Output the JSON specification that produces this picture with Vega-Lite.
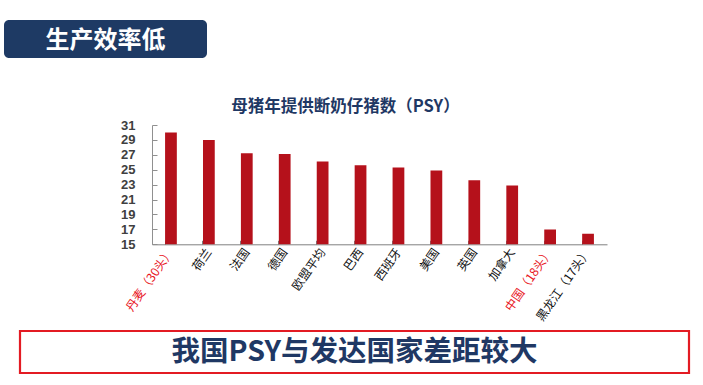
{
  "$schema": "https://vega.github.io/schema/vega-lite/v6.json",
  "background": "white",
  "padding": {"left": 4, "top": 20, "right": 0, "bottom": 0},
  "config": {"view": {"stroke": null}, "font": "Noto Sans CJK SC"},
  "bounds": "full",
  "spacing": 0,
  "datasets": {
    "psy": [
      {"country": "丹麦（30头）", "psy": 30.0},
      {"country": "荷兰", "psy": 29.0},
      {"country": "法国", "psy": 27.2},
      {"country": "德国", "psy": 27.1},
      {"country": "欧盟平均", "psy": 26.1},
      {"country": "巴西", "psy": 25.6},
      {"country": "西班牙", "psy": 25.3},
      {"country": "美国", "psy": 24.9},
      {"country": "英国", "psy": 23.6},
      {"country": "加拿大", "psy": 22.9},
      {"country": "中国（18头）", "psy": 17.0},
      {"country": "黑龙江（17头）", "psy": 16.4}
    ],
    "header": [{"text": "生产效率低"}],
    "footer": [{"text": "我国PSY与发达国家差距较大"}]
  },
  "vconcat": [
    {
      "hconcat": [
        {
          "width": 203,
          "height": 38,
          "view": {"fill": "#1e3a64", "cornerRadius": 5, "stroke": null},
          "data": {"name": "header"},
          "mark": {"type": "text", "color": "white", "fontSize": 24, "fontWeight": "bold", "dy": 2},
          "encoding": {"text": {"field": "text"}}
        },
        {
          "width": 1,
          "height": 78.2,
          "data": {"values": []},
          "mark": "point",
          "encoding": {}
        }
      ],
      "spacing": 0,
      "bounds": "flush"
    },
    {
      "hconcat": [
        {
          "width": 148,
          "height": 203.6,
          "data": {"values": []},
          "mark": "point",
          "encoding": {}
        },
        {
          "width": 455,
          "height": 119.3,
          "data": {"name": "psy"},
          "title": {
            "text": "母猪年提供断奶仔猪数（PSY）",
            "fontSize": 16.5,
            "fontWeight": "bold",
            "color": "#1f3864",
            "anchor": "middle",
            "dx": -34,
            "offset": 3.5
          },
          "mark": {"type": "bar", "color": "#b5111b", "clip": true},
          "encoding": {
            "x": {
              "field": "country",
              "type": "nominal",
              "sort": null,
              "scale": {"paddingInner": 0.69, "paddingOuter": 0.345},
              "axis": {
                "title": null,
                "labelAngle": -55,
                "labelFontSize": 12,
                "labelColor": {
                  "condition": {"test": "datum.value === '丹麦（30头）' || datum.value === '中国（18头）'", "value": "#e8141c"},
                  "value": "#111111"
                },
                "domainColor": "#808080",
                "tickColor": "#808080",
                "tickSize": -4,
                "bandPosition": 0,
                "labelPadding": 9
              }
            },
            "y": {
              "field": "psy",
              "type": "quantitative",
              "scale": {"domain": [15, 31], "zero": false, "nice": false},
              "axis": {
                "title": null,
                "values": [15, 17, 19, 21, 23, 25, 27, 29, 31],
                "grid": false,
                "domainColor": "#909090",
                "tickColor": "#909090",
                "tickSize": -5,
                "labelPadding": 22,
                "labelFont": "Liberation Sans",
                "labelFontWeight": "bold",
                "labelFontSize": 13,
                "labelColor": "#404040"
              }
            }
          }
        }
      ],
      "spacing": 0,
      "bounds": "flush"
    },
    {
      "hconcat": [
        {
          "width": 16,
          "height": 42,
          "data": {"values": []},
          "mark": "point",
          "encoding": {}
        },
        {
          "width": 669,
          "height": 42,
          "view": {"stroke": "#e31b23", "strokeWidth": 2.2, "fill": "white"},
          "data": {"name": "footer"},
          "mark": {"type": "text", "fontSize": 28.5, "fontWeight": "bold", "color": "#1f3864"},
          "encoding": {"text": {"field": "text"}}
        }
      ],
      "spacing": 0,
      "bounds": "flush"
    }
  ]
}
